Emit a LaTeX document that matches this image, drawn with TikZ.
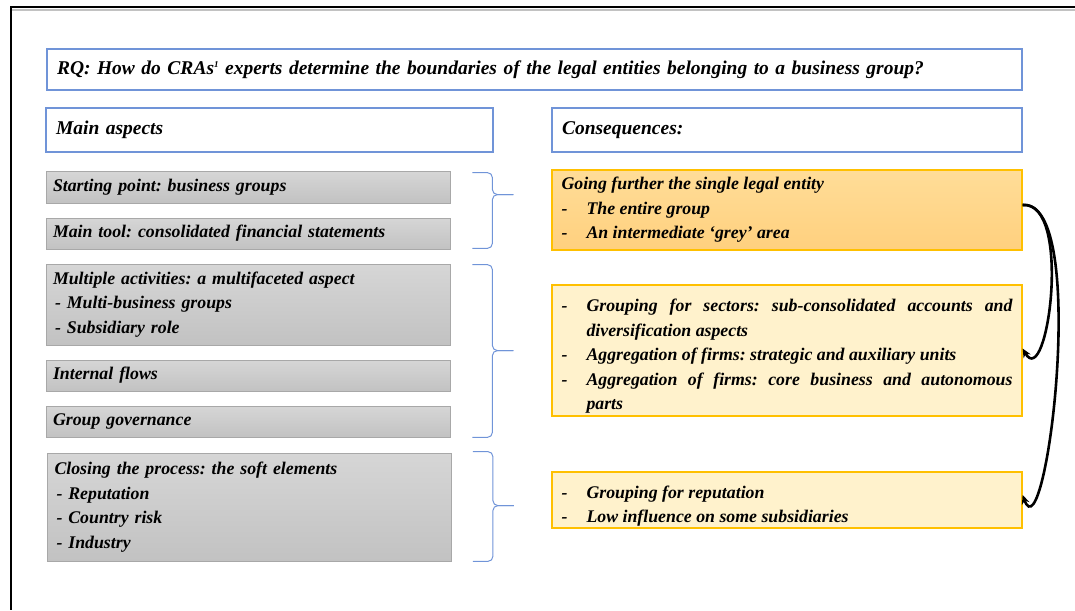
\documentclass[tikz,border=0pt]{standalone}
\usepackage{fontspec}
\setmainfont{Liberation Serif}
\usepackage{tikz}
\usetikzlibrary{arrows.meta,calc}
\definecolor{azulborda}{RGB}{112,148,216}
\definecolor{cinzatopo}{RGB}{214,214,214}
\definecolor{cinzabase}{RGB}{194,194,194}
\definecolor{cinzaborda}{RGB}{168,168,168}
\definecolor{ourotopo}{RGB}{255,221,152}
\definecolor{ourobase}{RGB}{255,208,126}
\definecolor{ouroclaro}{RGB}{255,242,204}
\definecolor{ouroborda}{RGB}{255,192,0}
\newcommand{\itemtraco}{\par\hangindent=25pt\hangafter=1\noindent\makebox[25pt][l]{-}}
\frenchspacing
\hyphenpenalty=10000
\exhyphenpenalty=10000

\begin{document}
\begin{tikzpicture}[x=1pt, y=-1pt,
  titulo/.style = {draw=azulborda, line width=1.2pt, fill=white, align=left, inner xsep=10pt, inner ysep=0pt, font=\fontsize{19.5}{23}\selectfont\bfseries\itshape},
  aspecto/.style = {draw=cinzaborda, line width=0.8pt, top color=cinzatopo, bottom color=cinzabase, align=left, text width=390pt, inner xsep=7pt, inner ysep=0pt, font=\fontsize{17.8}{24.5}\selectfont\bfseries\itshape},
  consequencia/.style = {draw=ouroborda, line width=1.2pt, fill=ouroclaro, align=justify, text width=451pt, inner xsep=9.5pt, inner ysep=0pt, font=\fontsize{17.8}{24.5}\selectfont\bfseries\itshape},
  chave/.style = {azulborda, line width=1pt, rounded corners=5pt},
  seta/.style = {-{Stealth[length=9pt, width=8pt]}, line width=2.6pt, black}]
\useasboundingbox (0,0) rectangle (1075,610);
% moldura da figura.
\draw [cinzabase, line width=1.5pt] (12,10) -- (1075,10);
\draw [line width=2.2pt] (1075,7) -- (11,7) -- (11,610);

% caixas de titulo.
\node [titulo, text width=955pt, minimum height=41pt] (rq) at (534.5,69.5){RQ: How do CRAs\raisebox{7pt}{\fontsize{9}{9}\selectfont 1} experts determine the boundaries of the legal entities belonging to a business group?};
\node [titulo, text width=427pt, minimum height=44pt] (aspectos) at (269.5,130){Main aspects};
\node [titulo, text width=450pt, minimum height=44pt] (consequencias) at (787,130){Consequences:};

% caixas cinzas dos aspectos.
\node [aspecto, minimum height=32pt] (inicio) at (248,187){Starting point: business groups};
\node [aspecto, minimum height=31pt] (ferramenta) at (248,233.5){Main tool: consolidated financial statements};
\node [aspecto, minimum height=81pt] (atividades) at (248,304.5){Multiple activities: a multifaceted aspect\\\hspace{2pt}- Multi-business groups\\\hspace{2pt}- Subsidiary role};
\node [aspecto, minimum height=31pt] (fluxos) at (248,375.5){Internal flows};
\node [aspecto, minimum height=31pt] (governanca) at (248,421.5){Group governance};
\node [aspecto, minimum height=108pt] (fechamento) at (249.5,507){Closing the process: the soft elements\\\hspace{2pt}- Reputation\\\hspace{2pt}- Country risk\\\hspace{2pt}- Industry};

% chaves.
\draw [chave] ($(inicio.north east)+(22,2)$) -- ($(inicio.north east)+(42,2)$) -- ($(inicio.north east)+(42,24)$) -- ($(inicio.north east)+(63,24)$);
\draw [chave] ($(inicio.north east)+(63,24)$) -- ($(inicio.north east)+(42,24)$) -- ($(ferramenta.south east)+(42,-1)$) -- ($(ferramenta.south east)+(22,-1)$);
\draw [chave] ($(atividades.north east)+(22,1)$) -- ($(atividades.north east)+(42,1)$) -- ($(atividades.north east)+(42,87)$) -- ($(atividades.north east)+(63,87)$);
\draw [chave] ($(atividades.north east)+(63,87)$) -- ($(atividades.north east)+(42,87)$) -- ($(governanca.south east)+(42,0)$) -- ($(governanca.south east)+(22,0)$);
\draw [chave] ($(fechamento.north east)+(21,-1)$) -- ($(fechamento.north east)+(41,-1)$) -- ($(fechamento.north east)+(41,53)$) -- ($(fechamento.north east)+(62,53)$);
\draw [chave] ($(fechamento.north east)+(62,53)$) -- ($(fechamento.north east)+(41,53)$) -- ($(fechamento.south east)+(41,0)$) -- ($(fechamento.south east)+(21,0)$);

% caixas amarelas das consequencias.
\node [consequencia, top color=ourotopo, bottom color=ourobase, minimum height=80pt] (alem) at (787,210){Going further the single legal entity\itemtraco The entire group\itemtraco An intermediate `grey' area\par};
\node [consequencia, minimum height=131pt] (setores) at (787,350.5){\itemtraco Grouping for sectors: sub-consolidated accounts and diversification aspects\itemtraco Aggregation of firms: strategic and auxiliary units\itemtraco Aggregation of firms: core business and autonomous\linebreak parts\par};
\node [consequencia, minimum height=56pt] (reputacao) at (787,500){\itemtraco Grouping for reputation\itemtraco Low influence on some subsidiaries\par};

% setas.
\draw [seta] ($(alem.east)+(0,-5)$) to[out=5, in=-60, looseness=0.9] ($(setores.east)+(0,-2)$);
\draw [seta] ($(alem.east)+(0,-5)$) to[out=5, in=-70, looseness=0.6] ($(reputacao.east)+(0,-5)$);
\end{tikzpicture}
\end{document}
